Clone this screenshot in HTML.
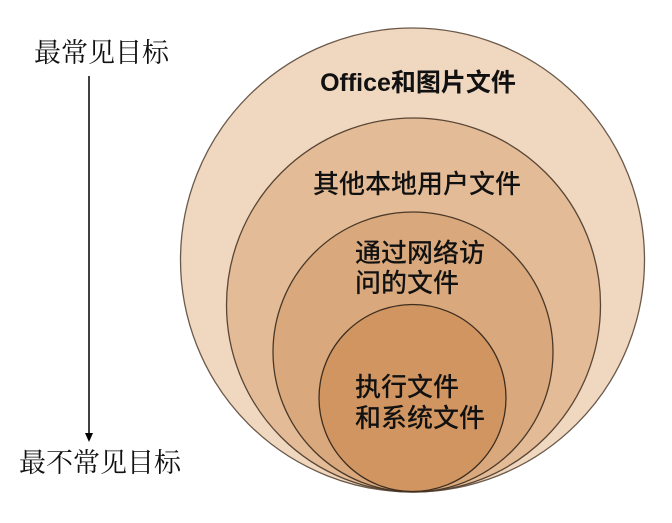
<!DOCTYPE html>
<html><head><meta charset="utf-8"><style>
body{margin:0;background:#fff;width:672px;height:518px;overflow:hidden}
</style></head><body>
<svg width="672" height="518" viewBox="0 0 672 518" xmlns="http://www.w3.org/2000/svg">
<circle cx="412.5" cy="260" r="232" fill="#f0d7bf" stroke="#6b5a4a" stroke-width="1.3"/>
<circle cx="413.5" cy="305" r="187" fill="#e3bb96" stroke="#5a4636" stroke-width="1.3"/>
<circle cx="413" cy="352" r="140" fill="#d9a97d" stroke="#4a3828" stroke-width="1.3"/>
<circle cx="412.5" cy="398" r="93.5" fill="#d09561" stroke="#3e2e20" stroke-width="1.3"/>
<g font-family="'Liberation Sans','Noto Sans CJK SC',sans-serif" font-size="26" fill="#111" font-weight="500">
<text x="418" y="91" text-anchor="middle" font-weight="bold" font-size="25">Office和图片文件</text>
<text x="417" y="193" text-anchor="middle">其他本地用户文件</text>
<text x="355" y="262">通过网络访</text>
<text x="355" y="292">问的文件</text>
<text x="355" y="396">执行文件</text>
<text x="355" y="427">和系统文件</text>
</g>
<g font-family="'Liberation Serif','Noto Serif CJK SC',serif" font-size="27" fill="#111">
<text x="34" y="62">最常见目标</text>
<text x="19" y="472">最不常见目标</text>
</g>
<line x1="89" y1="76" x2="89" y2="434" stroke="#000" stroke-width="1.5"/>
<path d="M85,433 L93,433 L89,442 Z" fill="#000"/>
</svg>
</body></html>
